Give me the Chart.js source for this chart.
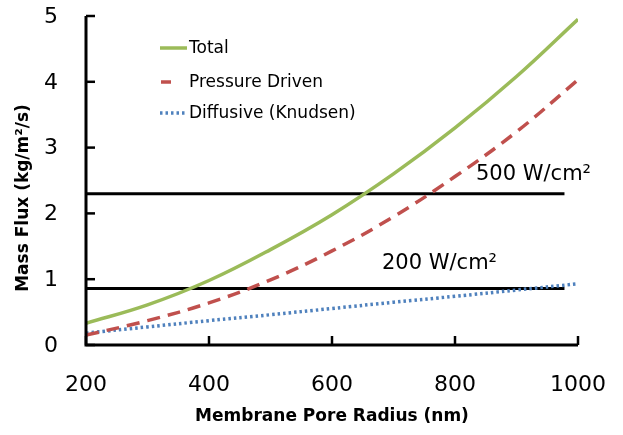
<!DOCTYPE html>
<html>
<head>
<meta charset="utf-8">
<script src="https://cdn.jsdelivr.net/npm/chart.js@4.4.1/dist/chart.umd.min.js"></script>
<style>
  html, body { margin: 0; padding: 0; background: #fff; }
  #wrap { width: 623px; height: 435px; }
</style>
</head>
<body>
<div id="wrap"><canvas id="chart"></canvas></div>
<script>
// pore radius (nm)
const radius = [200, 300, 400, 500, 600, 700, 800, 900, 1000];
// mass flux (kg/m2/s)
const total = [0.33, 0.61, 0.98, 1.45, 1.98, 2.6, 3.3, 4.08, 4.95];
const pressure = [0.15, 0.37, 0.64, 0.99, 1.43, 1.95, 2.56, 3.24, 4.03];
const diffusive = [0.18, 0.275, 0.37, 0.46, 0.555, 0.65, 0.74, 0.835, 0.93];

// heat flux limits
const limitLabels = ["500 W/cm²", "200 W/cm²"];
const limitValues = [2.3, 0.86];
const limitEnd = 978;

const xTicks = [200, 400, 600, 800, 1000];
const yTicks = [0, 1, 2, 3, 4, 5];

const green = "#9BBB59";
const red = "#C0504D";
const blue = "#4F81BD";
const font = "'DejaVu Sans', sans-serif";

const pts = (ys) => radius.map((r, i) => ({ x: r, y: ys[i] }));

const limitSets = limitValues.map((v) => ({
  label: "",
  data: [{ x: radius[0], y: v }, { x: limitEnd, y: v }],
  borderColor: "#000",
  borderWidth: 3,
  pointRadius: 0,
}));

// axes, ticks, labels and legend
const extras = {
  id: "extras",
  afterDraw(chart) {
    const ctx = chart.ctx;
    const xs = chart.scales.x;
    const ys = chart.scales.y;
    const area = chart.chartArea;
    ctx.save();
    ctx.strokeStyle = "#000";
    ctx.lineWidth = 3;
    ctx.beginPath();
    ctx.moveTo(area.left, area.top);
    ctx.lineTo(area.left, area.bottom);
    ctx.lineTo(area.right, area.bottom);
    ctx.stroke();
    ctx.lineWidth = 2.5;
    ctx.fillStyle = "#000";
    ctx.font = "22px " + font;
    ctx.textAlign = "center";
    ctx.textBaseline = "middle";
    xTicks.forEach((t) => {
      const px = xs.getPixelForValue(t);
      ctx.beginPath();
      ctx.moveTo(px, area.bottom);
      ctx.lineTo(px, area.bottom - 9);
      ctx.stroke();
      ctx.fillText(String(t), px, area.bottom + 40);
    });
    ctx.textAlign = "right";
    yTicks.forEach((t) => {
      const py = ys.getPixelForValue(t);
      ctx.beginPath();
      ctx.moveTo(area.left, py);
      ctx.lineTo(area.left + 9, py);
      ctx.stroke();
      ctx.fillText(String(t), area.left - 28, py + 1);
    });

    // axis titles
    ctx.font = "bold 17px " + font;
    ctx.textAlign = "center";
    ctx.fillText("Membrane Pore Radius (nm)", (area.left + area.right) / 2, area.bottom + 72);
    ctx.save();
    ctx.translate(24, 198);
    ctx.rotate(-Math.PI / 2);
    ctx.fillText("Mass Flux (kg/m²/s)", 0, 0);
    ctx.restore();

    // limit labels
    ctx.font = "21px " + font;
    ctx.textAlign = "left";
    ctx.textBaseline = "alphabetic";
    const labelX = [476, 382];
    const labelDy = [-14, -19];
    limitValues.forEach((v, i) => {
      const py = ys.getPixelForValue(v);
      ctx.fillText(limitLabels[i], labelX[i], py + labelDy[i]);
    });

    // legend
    const items = [
      { text: "Total", color: green, dash: [], x0: 160, x1: 187, y: 48 },
      { text: "Pressure Driven", color: red, dash: [], x0: 161, x1: 171, y: 82 },
      { text: "Diffusive (Knudsen)", color: blue, dash: [2.5, 3], x0: 160, x1: 187, y: 113 },
    ];
    ctx.font = "17px " + font;
    ctx.textBaseline = "middle";
    items.forEach((it) => {
      ctx.strokeStyle = it.color;
      ctx.lineWidth = 3.5;
      ctx.setLineDash(it.dash);
      ctx.beginPath();
      ctx.moveTo(it.x0, it.y);
      ctx.lineTo(it.x1, it.y);
      ctx.stroke();
      ctx.setLineDash([]);
      ctx.fillStyle = "#000";
      ctx.fillText(it.text, 189, it.y + 1);
    });
    ctx.restore();
  },
};

new Chart(document.getElementById("chart"), {
  type: "line",
  data: {
    datasets: [
      {
        label: "Total",
        data: pts(total),
        borderColor: green,
        borderWidth: 3.5,
        pointRadius: 0,
        tension: 0.4,
      },
      {
        label: "Pressure Driven",
        data: pts(pressure),
        borderColor: red,
        borderWidth: 3.5,
        borderDash: [13, 8],
        pointRadius: 0,
        tension: 0.4,
      },
      {
        label: "Diffusive (Knudsen)",
        data: pts(diffusive),
        borderColor: blue,
        borderWidth: 3.5,
        borderDash: [2.5, 3],
        pointRadius: 0,
        tension: 0.4,
      },
      ...limitSets,
    ],
  },
  options: {
    responsive: true,
    maintainAspectRatio: false,
    animation: false,
    layout: { padding: { top: 16, right: 45, left: 0, bottom: 0 } },
    plugins: { legend: { display: false }, tooltip: { enabled: false } },
    scales: {
      x: {
        type: "linear",
        min: 200,
        max: 1000,
        afterFit: (s) => { s.height = 90; },
        grid: { display: false, drawTicks: false },
        border: { display: false },
        ticks: { display: false },
      },
      y: {
        min: 0,
        max: 5,
        afterFit: (s) => { s.width = 86; },
        grid: { display: false, drawTicks: false },
        border: { display: false },
        ticks: { display: false },
      },
    },
  },
  plugins: [extras],
});
</script>
</body>
</html>
